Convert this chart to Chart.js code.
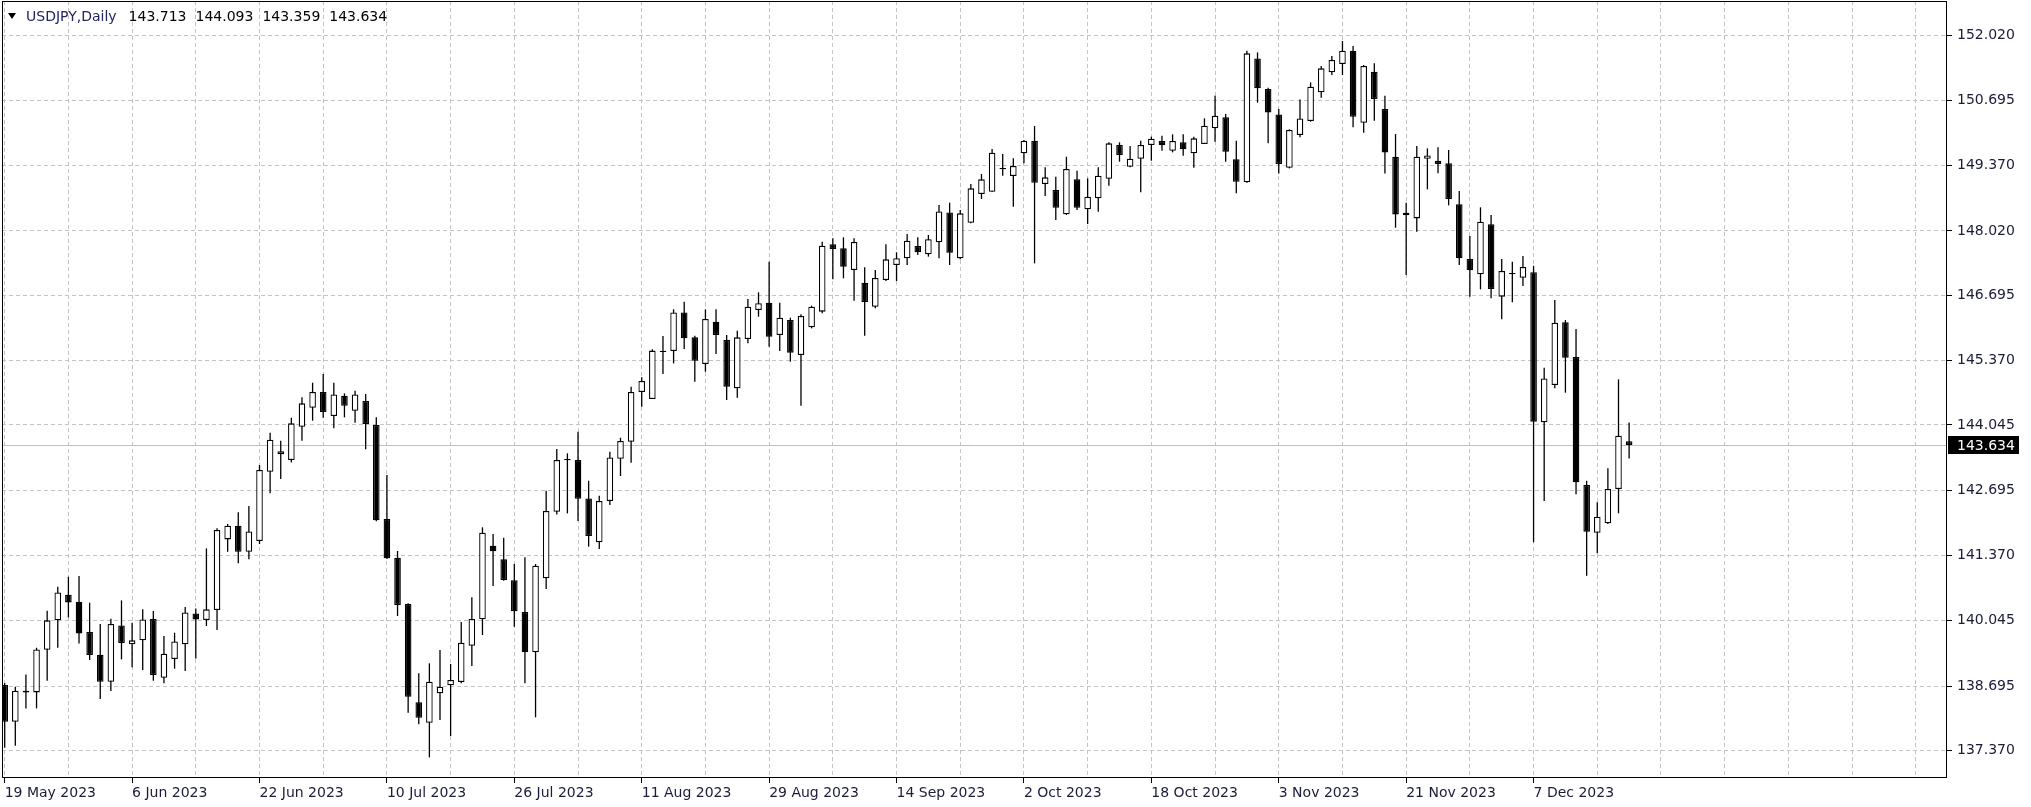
<!DOCTYPE html>
<html>
<head>
<meta charset="utf-8">
<script src="https://cdn.jsdelivr.net/npm/chart.js@4/dist/chart.umd.min.js"></script>
<style>
  html, body { margin: 0; padding: 0; background: #fff; }
</style>
</head>
<body>
<canvas id="chart" width="2031" height="807"></canvas>
<script>
// Datos del gráfico (USDJPY diario)
const symbolName = 'USDJPY,Daily';
const tickLabels = ['19 May 2023', '6 Jun 2023', '22 Jun 2023', '10 Jul 2023', '26 Jul 2023',
    '11 Aug 2023', '29 Aug 2023', '14 Sep 2023', '2 Oct 2023', '18 Oct 2023', '3 Nov 2023',
    '21 Nov 2023', '7 Dec 2023'];
const barsPerLabel = 12;
const barsPerGrid = 6;
const yTickValues = [137.370, 138.695, 140.045, 141.370, 142.695, 144.045, 145.370,
    146.695, 148.020, 149.370, 150.695, 152.020];

const opens = [
    138.716, 137.964, 138.599, 138.565, 139.439, 140.041, 140.566, 140.423, 139.801, 139.337,
    138.784, 139.938, 139.549, 139.631, 140.068, 138.866, 139.248, 139.549, 140.184, 140.048,
    140.252, 141.700, 141.980, 141.448, 141.666, 143.087, 143.442, 143.326, 144.009, 144.398,
    144.719, 144.227, 144.644, 144.337, 144.535, 144.043, 142.118, 141.325, 140.376, 138.361,
    137.944, 138.545, 138.709, 138.778, 139.522, 140.062, 141.571, 141.291, 140.861, 140.212,
    139.386, 140.902, 142.267, 143.326, 143.326, 142.540, 141.639, 142.486, 143.353, 143.701,
    144.719, 144.576, 145.552, 145.559, 146.351, 145.839, 145.293, 146.160, 145.785, 144.795,
    145.806, 146.400, 146.550, 145.888, 146.195, 145.478, 146.045, 146.366, 147.745, 147.663,
    147.220, 146.960, 146.468, 147.015, 147.322, 147.459, 147.711, 147.541, 147.786, 148.400,
    147.458, 148.189, 148.776, 148.824, 149.302, 149.145, 149.609, 149.869, 148.981, 148.858,
    148.360, 149.077, 148.462, 148.687, 149.090, 149.780, 149.336, 149.500, 149.780, 149.862,
    149.664, 149.835, 149.609, 149.801, 150.122, 150.347, 149.487, 149.015, 151.555, 150.927,
    150.408, 149.315, 149.985, 150.271, 150.859, 151.269, 151.439, 151.713, 150.237, 151.282,
    150.517, 149.540, 148.339, 148.277, 149.500, 149.460, 149.405, 148.565, 147.445, 147.131,
    148.155, 146.673, 147.144, 147.062, 147.172, 144.098, 144.863, 146.147, 145.437, 142.814,
    141.837, 142.029, 142.732, 143.713
];
const highs = [
    138.760, 138.681, 138.934, 139.480, 140.239, 140.730, 140.935, 140.949, 140.403, 139.965,
    140.075, 140.450, 139.993, 140.266, 140.232, 139.720, 139.788, 140.314, 140.286, 141.516,
    141.926, 142.015, 142.254, 142.383, 143.224, 143.886, 143.722, 144.193, 144.610, 144.910,
    145.088, 144.910, 144.692, 144.747, 144.678, 144.200, 143.019, 141.462, 140.390, 138.955,
    139.160, 139.433, 139.147, 140.007, 140.512, 141.947, 141.810, 141.735, 141.195, 141.332,
    141.195, 142.698, 143.551, 143.462, 143.906, 142.902, 142.595, 143.496, 143.783, 144.828,
    145.020, 145.595, 145.866, 146.413, 146.570, 145.873, 146.413, 146.413, 145.888, 145.976,
    146.625, 146.762, 147.390, 146.550, 146.243, 146.311, 146.489, 147.800, 147.868, 147.889,
    147.868, 147.274, 147.220, 147.745, 147.582, 147.957, 147.889, 147.937, 148.550, 148.600,
    148.450, 148.981, 149.186, 149.698, 149.596, 149.507, 149.883, 150.169, 149.323, 149.131,
    149.541, 149.254, 149.097, 149.323, 149.835, 149.835, 149.760, 149.869, 149.951, 149.972,
    149.999, 149.999, 149.951, 150.327, 150.791, 150.415, 149.869, 151.713, 151.678, 150.954,
    150.517, 150.101, 150.715, 151.064, 151.398, 151.603, 151.911, 151.808, 151.419, 151.453,
    150.791, 150.005, 148.598, 149.759, 149.711, 149.733, 149.678, 148.838, 147.916, 148.503,
    148.347, 147.445, 147.390, 147.506, 147.308, 145.218, 146.605, 146.195, 146.011, 142.903,
    142.459, 143.156, 144.979, 144.093
];
const lows = [
    137.430, 137.472, 138.237, 138.237, 138.804, 139.480, 140.102, 139.569, 139.228, 138.429,
    138.593, 139.241, 139.078, 139.023, 138.804, 138.750, 139.050, 139.002, 139.262, 139.925,
    139.843, 141.448, 141.209, 141.291, 141.605, 142.643, 142.937, 143.278, 143.722, 144.132,
    144.193, 143.975, 144.200, 144.091, 143.545, 142.070, 141.300, 140.130, 138.149, 137.910,
    137.234, 137.999, 137.671, 138.750, 139.106, 139.741, 140.745, 140.854, 139.911, 138.750,
    138.054, 140.683, 142.212, 142.233, 142.076, 141.550, 141.502, 142.404, 142.998, 143.271,
    144.419, 144.576, 145.088, 145.306, 145.600, 144.931, 145.136, 145.498, 144.556, 144.604,
    145.717, 146.263, 145.649, 145.560, 145.341, 144.440, 146.024, 146.332, 147.028, 147.049,
    146.591, 145.874, 146.434, 146.994, 146.994, 147.322, 147.527, 147.493, 147.459, 147.322,
    147.440, 148.175, 148.674, 148.824, 149.152, 148.516, 149.405, 147.356, 148.735, 148.243,
    148.346, 148.448, 148.161, 148.414, 148.947, 149.439, 149.323, 148.810, 149.459, 149.664,
    149.630, 149.562, 149.316, 149.801, 149.848, 149.439, 148.790, 149.008, 150.647, 149.814,
    149.199, 149.302, 149.937, 150.258, 150.750, 151.214, 151.214, 150.142, 150.032, 150.278,
    149.199, 148.086, 147.116, 148.004, 148.871, 149.200, 148.544, 147.322, 146.673, 146.823,
    146.639, 146.209, 146.557, 146.892, 141.639, 142.486, 144.795, 144.706, 142.623, 140.956,
    141.414, 142.015, 142.234, 143.359
];
const closes = [
    137.964, 138.599, 138.565, 139.446, 140.041, 140.614, 140.409, 139.774, 139.330, 138.784,
    139.965, 139.576, 139.631, 140.061, 138.920, 139.358, 139.610, 140.204, 140.061, 140.266,
    141.892, 141.980, 141.448, 141.864, 143.121, 143.743, 143.504, 144.077, 144.487, 144.719,
    144.309, 144.671, 144.439, 144.671, 144.064, 142.090, 141.312, 140.356, 138.477, 138.047,
    138.784, 138.682, 138.819, 139.584, 140.068, 141.837, 141.455, 140.868, 140.226, 139.386,
    141.161, 142.281, 143.326, 143.319, 142.533, 141.769, 142.486, 143.380, 143.715, 144.719,
    144.944, 145.568, 145.539, 146.351, 145.819, 145.361, 146.215, 145.887, 144.829, 145.840,
    146.468, 146.537, 145.854, 146.243, 145.526, 146.277, 146.468, 147.718, 147.650, 147.288,
    147.793, 146.564, 147.056, 147.438, 147.459, 147.821, 147.581, 147.848, 148.420, 147.575,
    148.380, 148.892, 149.077, 149.623, 149.282, 149.350, 149.869, 149.008, 149.118, 148.496,
    149.288, 148.496, 148.722, 149.152, 149.814, 149.575, 149.500, 149.780, 149.910, 149.773,
    149.862, 149.691, 149.917, 150.176, 150.381, 149.644, 149.029, 151.658, 150.941, 150.449,
    149.390, 150.087, 150.326, 150.975, 151.351, 151.521, 151.713, 150.360, 151.398, 150.722,
    149.629, 148.359, 148.393, 149.540, 149.568, 149.391, 148.674, 147.458, 147.213, 148.210,
    146.830, 147.199, 147.131, 147.281, 144.112, 144.996, 146.140, 145.424, 142.869, 141.858,
    142.166, 142.732, 143.825, 143.634
];

// Estilos
const fontFamily = 'DejaVu Sans';
const gridColor = '#c4c4c4';
const textColor = '#1b1b3a';

const barIdx = opens.map((_, i) => i);
const wickData = barIdx.map(i => ({ x: i, y: [lows[i], highs[i]] }));
const bodyData = barIdx.map(i => ({ x: i, y: [opens[i], closes[i]] }));
const bodyFill = barIdx.map(i => closes[i] >= opens[i] ? '#ffffff' : '#000000');
const last = opens.length - 1;
const lastPrice = closes[last];

// Marco, línea de precio, cabecera y etiqueta del precio
const decorPlugin = {
    id: 'decor',
    beforeDatasetsDraw(chart) {
        const { ctx, chartArea } = chart;
        const py = Math.round(chart.scales.y.getPixelForValue(lastPrice)) + 0.5;
        ctx.save();
        ctx.strokeStyle = '#c0c0c0';
        ctx.lineWidth = 1;
        ctx.beginPath();
        ctx.moveTo(chartArea.left, py);
        ctx.lineTo(chartArea.right, py);
        ctx.stroke();
        ctx.restore();
    },
    afterDraw(chart) {
        const { ctx, chartArea } = chart;
        ctx.save();
        // marco
        ctx.strokeStyle = '#000';
        ctx.lineWidth = 1;
        ctx.strokeRect(chartArea.left + 0.5, chartArea.top + 0.5,
            chartArea.right - chartArea.left - 1, chartArea.bottom - chartArea.top - 1);

        // cabecera
        ctx.fillStyle = '#000';
        ctx.beginPath();
        ctx.moveTo(8, 13);
        ctx.lineTo(16, 13);
        ctx.lineTo(12, 19);
        ctx.closePath();
        ctx.fill();
        ctx.font = '14px "' + fontFamily + '"';
        ctx.textBaseline = 'alphabetic';
        let x = 26;
        ctx.fillStyle = '#23235f';
        ctx.fillText(symbolName, x, 21);
        x += ctx.measureText(symbolName).width + 12;
        ctx.fillStyle = '#000';
        [opens[last], highs[last], lows[last], closes[last]].forEach(v => {
            const s = v.toFixed(3);
            ctx.fillText(s, x, 21);
            x += ctx.measureText(s).width + 9;
        });

        // etiqueta del precio actual
        const py = Math.round(chart.scales.y.getPixelForValue(lastPrice));
        ctx.fillStyle = '#000';
        ctx.fillRect(chartArea.right + 1, py - 9, 71, 18);
        ctx.fillStyle = '#fff';
        ctx.textBaseline = 'middle';
        ctx.fillText(lastPrice.toFixed(3), chartArea.right + 10, py + 1);
        ctx.restore();
    }
};

new Chart(document.getElementById('chart').getContext('2d'), {
    type: 'bar',
    data: {
        datasets: [{
            data: bodyData,
            backgroundColor: bodyFill,
            borderColor: '#000',
            borderWidth: 1.3,
            borderSkipped: false,
            barThickness: 6.6,
            minBarLength: 1.3,
            inflateAmount: 0,
            grouped: false,
            order: 1
        }, {
            data: wickData,
            backgroundColor: '#000',
            borderWidth: 0,
            barThickness: 1.3,
            inflateAmount: 0,
            grouped: false,
            order: 2
        }]
    },
    options: {
        responsive: false,
        animation: false,
        layout: { padding: { left: 2, top: 1, right: 0, bottom: 0 } },
        plugins: { legend: { display: false }, tooltip: { enabled: false } },
        scales: {
            x: {
                type: 'linear',
                offset: false,
                min: -0.254,
                max: 182.94,
                afterBuildTicks: s => {
                    const t = [];
                    for (let v = 0; v <= s.max; v += barsPerGrid) t.push({ value: v });
                    s.ticks = t;
                },
                afterFit: s => { s.height = 29; s.paddingLeft = 0; s.paddingRight = 0; },
                grid: {
                    offset: false,
                    color: gridColor,
                    lineWidth: 1,
                    tickLength: 5,
                    tickColor: c => (c.tick && c.tick.value % barsPerLabel === 0 &&
                        c.tick.value / barsPerLabel < tickLabels.length) ? '#000' : 'rgba(0,0,0,0)'
                },
                border: { display: false, dash: [4, 3] },
                ticks: {
                    autoSkip: false,
                    maxRotation: 0,
                    minRotation: 0,
                    align: 'start',
                    padding: 2,
                    color: textColor,
                    font: { family: fontFamily, size: 14 },
                    callback: v => (v % barsPerLabel === 0 && v / barsPerLabel < tickLabels.length)
                        ? tickLabels[v / barsPerLabel] : ''
                }
            },
            y: {
                type: 'linear',
                position: 'right',
                min: 136.811,
                max: 152.731,
                afterBuildTicks: s => { s.ticks = yTickValues.map(v => ({ value: v })); },
                afterFit: s => { s.width = 84; s.paddingTop = 0; s.paddingBottom = 0; },
                grid: { color: gridColor, lineWidth: 1, tickLength: 5, tickColor: '#000' },
                border: { display: false, dash: [4, 3] },
                ticks: {
                    padding: 5,
                    color: textColor,
                    font: { family: fontFamily, size: 14 },
                    callback: v => v.toFixed(3)
                }
            }
        }
    },
    plugins: [decorPlugin]
});
</script>
</body>
</html>
